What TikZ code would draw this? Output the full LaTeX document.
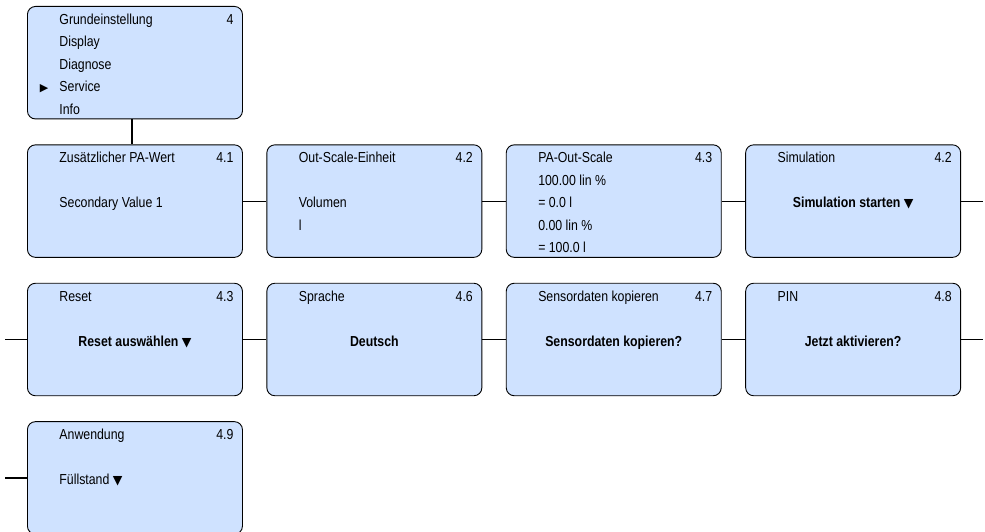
\documentclass[tikz,border=0pt]{standalone}
\usepackage{fontspec}
\setmainfont[FakeStretch=0.85]{Liberation Sans}
\newfontfamily\symbolfont{DejaVu Sans}
\usetikzlibrary{positioning}

\definecolor{menublue}{RGB}{207,226,255}

% display page: title and number in the top line, menu lines below
\newcommand{\menutext}[3]{%
  \parbox[c][112.5pt][t]{215pt}{%
    \leftskip=32pt \rightskip=9pt
    {\parfillskip=0pt \rule{0pt}{18pt}#1\hfill #2\par}
    #3}}
\newcommand{\skipline}{\vspace{22.5pt}}
\newcommand{\arrowdown}{{\symbolfont\fontsize{12.5pt}{12pt}\selectfont ▼}}
\newcommand{\cursor}{\leavevmode\llap{{\symbolfont\fontsize{11pt}{11pt}\selectfont ▶}\hspace{11pt}}}

\begin{document}
\begin{tikzpicture}[
    x=1pt, y=1pt,
    node distance=25pt and 23.5pt,
    menu/.style={draw, line width=0.9pt, fill=menublue, rounded corners=8pt, inner sep=0pt,
        font=\fontsize{14.5pt}{22.5pt}\selectfont},
    link/.style={line width=1.2pt}
]
    \useasboundingbox (0,0) rectangle (985,-532);

    \node [menu, anchor=north west] (service) at (27,-6) {\menutext{Grundeinstellung}{4}{Display\par Diagnose\par
        \cursor Service\par Info}};

    % first row
    \node [menu, below=of service] (pawert) {\menutext{Zusätzlicher PA-Wert}{4.1}{\skipline Secondary Value 1}};
    \node [menu, right=of pawert] (einheit) {\menutext{Out-Scale-Einheit}{4.2}{\skipline Volumen\par l}};
    \node [menu, right=of einheit] (outscale) {\menutext{PA-Out-Scale}{4.3}{100.00 lin \%\par = 0.0 l\par 0.00 lin \%\par = 100.0 l}};
    \node [menu, right=of outscale] (simul) {\menutext{Simulation}{4.2}{\skipline {\centering\bfseries Simulation starten \arrowdown\par}}};

    % second row
    \node [menu, below=of pawert] (reset) {\menutext{Reset}{4.3}{\skipline {\centering\bfseries Reset auswählen \arrowdown\par}}};
    \node [menu, right=of reset] (sprache) {\menutext{Sprache}{4.6}{\skipline {\centering\bfseries Deutsch\par}}};
    \node [menu, right=of sprache] (kopieren) {\menutext{Sensordaten kopieren}{4.7}{\skipline {\centering\bfseries Sensordaten kopieren?\par}}};
    \node [menu, right=of kopieren] (pin) {\menutext{PIN}{4.8}{\skipline {\centering\bfseries Jetzt aktivieren?\par}}};

    % third row
    \node [menu, below=of reset] (anwendung) {\menutext{Anwendung}{4.9}{\skipline Füllstand \arrowdown}};

    \coordinate [right=22pt of simul] (simulout);
    \coordinate [left=22pt of reset] (resetin);
    \coordinate [right=22pt of pin] (pinout);
    \coordinate [left=22pt of anwendung] (anwendungin);

    \draw [link] ([xshift=-3pt]service.south) -- ([xshift=-3pt]pawert.north);
    \draw [link] (pawert) -- (einheit);
    \draw [link] (einheit) -- (outscale);
    \draw [link] (outscale) -- (simul);
    \draw [link] (simul) -- (simulout);
    \draw [link] (resetin) -- (reset);
    \draw [link] (reset) -- (sprache);
    \draw [link] (sprache) -- (kopieren);
    \draw [link] (kopieren) -- (pin);
    \draw [link] (pin) -- (pinout);
    \draw [link] (anwendungin) -- (anwendung);
\end{tikzpicture}
\end{document}
